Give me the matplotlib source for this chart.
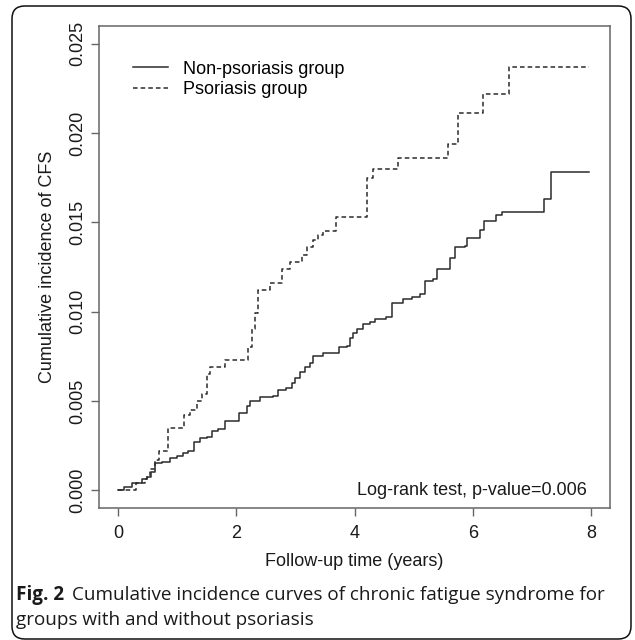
import matplotlib
matplotlib.use("Agg")
import matplotlib.pyplot as plt
from matplotlib.patches import FancyBboxPatch

# cumulative incidence of CFS, step points (time in years)
t_non = [0, 0.10, 0.24, 0.40, 0.49, 0.56, 0.63, 0.74, 0.88, 1.00, 1.10, 1.19, 1.28, 1.39,
         1.50, 1.59, 1.70, 1.81, 2.04, 2.18, 2.23, 2.40, 2.62, 2.71, 2.85, 2.94, 3.00, 3.08,
         3.16, 3.25, 3.30, 3.47, 3.73, 3.87, 3.92, 3.98, 4.04, 4.15, 4.26, 4.35, 4.54, 4.63,
         4.82, 4.97, 5.11, 5.19, 5.33, 5.39, 5.61, 5.70, 5.87, 5.90, 6.12, 6.19, 6.40, 6.49,
         7.21, 7.32]
ci_non = [0, 0.0002, 0.0004, 0.0006, 0.00075, 0.0010, 0.0015, 0.0016, 0.0018, 0.0019, 0.0021,
          0.0022, 0.0027, 0.0029, 0.0030, 0.0033, 0.0034, 0.0039, 0.0043, 0.0047, 0.0050,
          0.0052, 0.0053, 0.0056, 0.0057, 0.0060, 0.0063, 0.0066, 0.0069, 0.0071, 0.0075,
          0.0077, 0.0080, 0.0081, 0.0085, 0.0088, 0.0090, 0.0093, 0.0094, 0.0096, 0.0097,
          0.0105, 0.0107, 0.0108, 0.0110, 0.0117, 0.0118, 0.0124, 0.0130, 0.0136, 0.0137,
          0.0141, 0.0146, 0.0151, 0.0154, 0.0156, 0.0163, 0.0178]

t_pso = [0, 0.30, 0.45, 0.49, 0.55, 0.62, 0.69, 0.85, 1.11, 1.22, 1.33, 1.42, 1.50, 1.56,
         1.81, 2.20, 2.26, 2.32, 2.375, 2.57, 2.77, 2.91, 3.11, 3.19, 3.30, 3.39, 3.47, 3.69,
         4.21, 4.31, 4.73, 5.58, 5.75, 6.17, 6.61]
ci_pso = [0, 0.0004, 0.0006, 0.0008, 0.0012, 0.0017, 0.0022, 0.0035, 0.0042, 0.0045, 0.0050,
          0.0054, 0.0065, 0.0069, 0.0073, 0.0080, 0.0090, 0.0099, 0.0112, 0.0116, 0.0124,
          0.0128, 0.0132, 0.0136, 0.0140, 0.0143, 0.0145, 0.0153, 0.0175, 0.0180, 0.0186,
          0.0194, 0.0211, 0.0222, 0.0237]
t_end = 7.96

labels = ["Non-psoriasis group", "Psoriasis group"]
xticks = [0, 2, 4, 6, 8]
yticks = [0.000, 0.005, 0.010, 0.015, 0.020, 0.025]

plt.rcParams["font.family"] = ["Liberation Sans", "DejaVu Sans"]
W, H = 635, 640
fs = 13
fig = plt.figure(figsize=(W / 100, H / 100), dpi=100)

# rounded outer frame of the figure panel
fig.patches.append(FancyBboxPatch((12 / W, 1 - 639 / H), 619 / W, 633 / H,
                                  boxstyle="round,pad=0,rounding_size=0.02",
                                  transform=fig.transFigure, fill=False,
                                  ec="#111111", lw=1.1))

ax = fig.add_axes([99 / W, 1 - 508 / H, 511 / W, 482 / H])
ax.step(t_non + [t_end], ci_non + [ci_non[-1]], where="post", color="#2b2b2b", lw=1.1,
        label=labels[0])
ax.step(t_pso + [t_end], ci_pso + [ci_pso[-1]], where="post", color="#2b2b2b", lw=1.1,
        dashes=(3, 2), label=labels[1])

ax.set_xlim(-0.32, 8.32)
ax.set_ylim(-0.001, 0.026)
ax.set_xticks(xticks)
ax.set_yticks(yticks)
ax.set_yticklabels([f"{v:.3f}" for v in yticks])
for s in ax.spines.values():
    s.set_color("#666666")
    s.set_linewidth(1.1)
ax.tick_params(colors="#666666", labelcolor="#1a1a1a", labelsize=fs, length=6, width=1.0)
ax.tick_params(axis="x", pad=6)
ax.tick_params(axis="y", pad=3, labelrotation=90)
for lab in ax.get_yticklabels():
    lab.set_verticalalignment("center")

ax.set_xlabel("Follow-up time (years)", fontsize=fs, color="#1a1a1a", labelpad=8)
ax.set_ylabel("Cumulative incidence of CFS", fontsize=fs, color="#1a1a1a", labelpad=10)

ax.legend(loc="upper left", bbox_to_anchor=(0.066, 0.928), frameon=False, fontsize=fs,
          borderpad=0, borderaxespad=0, handlelength=1.95, handletextpad=0.85,
          labelspacing=0.2)

ax.text(7.93, 0.0, "Log-rank test, p-value=0.006", ha="right", va="center", fontsize=fs,
        color="#1a1a1a")

# caption below the chart
cap_font = ["Open Sans", "DejaVu Sans"]
cap_y1 = 1 - 595 / H
cap_y2 = 1 - 620 / H
bold = fig.text(16 / W, cap_y1, "Fig. 2", fontsize=13.6, fontweight="bold", va="center",
                family=cap_font, color="#1a1a1a")
fig.canvas.draw()
bb = bold.get_window_extent(fig.canvas.get_renderer())
fig.text(bb.x1 / W + 8 / W, cap_y1,
         "Cumulative incidence curves of chronic fatigue syndrome for",
         fontsize=13.6, va="center", family=cap_font, color="#1a1a1a")
fig.text(16 / W, cap_y2, "groups with and without psoriasis", fontsize=13.6, va="center",
         family=cap_font, color="#1a1a1a")

fig.savefig("out.png", dpi=100)
